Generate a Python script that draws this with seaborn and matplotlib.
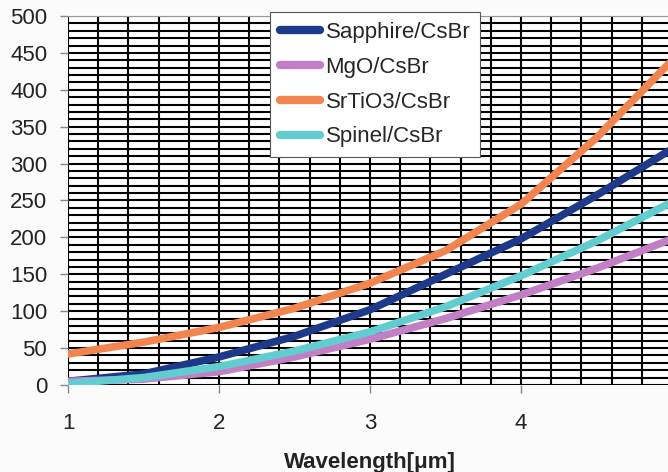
import matplotlib
matplotlib.use('Agg')
import matplotlib.pyplot as plt
import numpy as np
import pandas as pd
import seaborn as sns

wavelength = [1.0, 1.5, 2.0, 2.5, 3.0, 3.5, 4.0, 4.5, 5.0]
sapphire = [5, 15, 38, 66, 102, 150, 198, 257, 320]
mgo = [5, 8, 18, 38, 62, 90, 122, 158, 198]
srtio3 = [42, 58, 78, 104, 138, 182, 245, 335, 440]
spinel = [2, 10, 25, 46, 72, 106, 148, 195, 248]

series_names = ['Sapphire/CsBr', 'MgO/CsBr', 'SrTiO3/CsBr', 'Spinel/CsBr']
series_values = [sapphire, mgo, srtio3, spinel]
colors = ['#1d3a8a', '#c27fc6', '#f2844e', '#62cdd0']


def main() -> None:
    rows = []
    for name, vals in zip(series_names, series_values):
        for x, y in zip(wavelength, vals):
            rows.append({'Wavelength': x, 'Value': y, 'Series': name})
    df = pd.DataFrame(rows)

    sns.set_style('white')
    plt.rcParams['font.family'] = ['Liberation Sans', 'DejaVu Sans']

    fig = plt.figure(figsize=(6.68, 4.72), dpi=100)
    fig.patch.set_facecolor('#fbfbfb')
    ax = fig.add_axes([68 / 668, 87 / 472, 604 / 668, 369 / 472])
    ax.set_facecolor('white')

    sns.lineplot(data=df, x='Wavelength', y='Value', hue='Series',
                 hue_order=series_names, palette=colors, linewidth=5.5,
                 ax=ax, zorder=3)

    ax.set_xlim(1, 5)
    ax.set_ylim(0, 500)
    ax.set_xticks([1, 2, 3, 4, 5])
    ax.set_yticks(np.arange(0, 501, 50))
    ax.set_xticks(np.arange(1, 5.01, 0.2), minor=True)
    ax.set_yticks(np.arange(0, 501, 10), minor=True)
    ax.grid(which='both', color='black', linewidth=1.5)
    ax.set_axisbelow(True)
    for side in ['left', 'right', 'bottom']:
        ax.spines[side].set_visible(False)
    ax.spines['top'].set_color('#999999')

    ax.tick_params(axis='both', which='major', labelsize=16, colors='#888888',
                   labelcolor='#222222', length=6, width=1)
    ax.tick_params(axis='y', which='major', pad=9, left=True)
    ax.tick_params(axis='x', which='major', pad=14, bottom=True)
    ax.tick_params(which='minor', length=0)

    ax.set_xlabel('Wavelength[\u03bcm]', fontsize=16, fontweight='bold',
                  color='#222222', labelpad=13)
    ax.set_ylabel('')

    handles, labels = ax.get_legend_handles_labels()
    leg = ax.legend(handles, labels, loc='upper left',
                    bbox_to_anchor=(270 / 668, 1 - 12 / 472),
                    bbox_transform=fig.transFigure, fontsize=16,
                    frameon=True, fancybox=False, framealpha=1,
                    edgecolor='#555555', handlelength=1.8,
                    labelspacing=0.62, borderpad=0.45, handletextpad=0.25,
                    borderaxespad=0)
    leg.get_frame().set_linewidth(0.8)
    leg.set_zorder(5)
    for line in leg.get_lines():
        line.set_linewidth(6)

    fig.savefig('out.png', dpi=100, facecolor=fig.get_facecolor())


if __name__ == '__main__':
    main()
